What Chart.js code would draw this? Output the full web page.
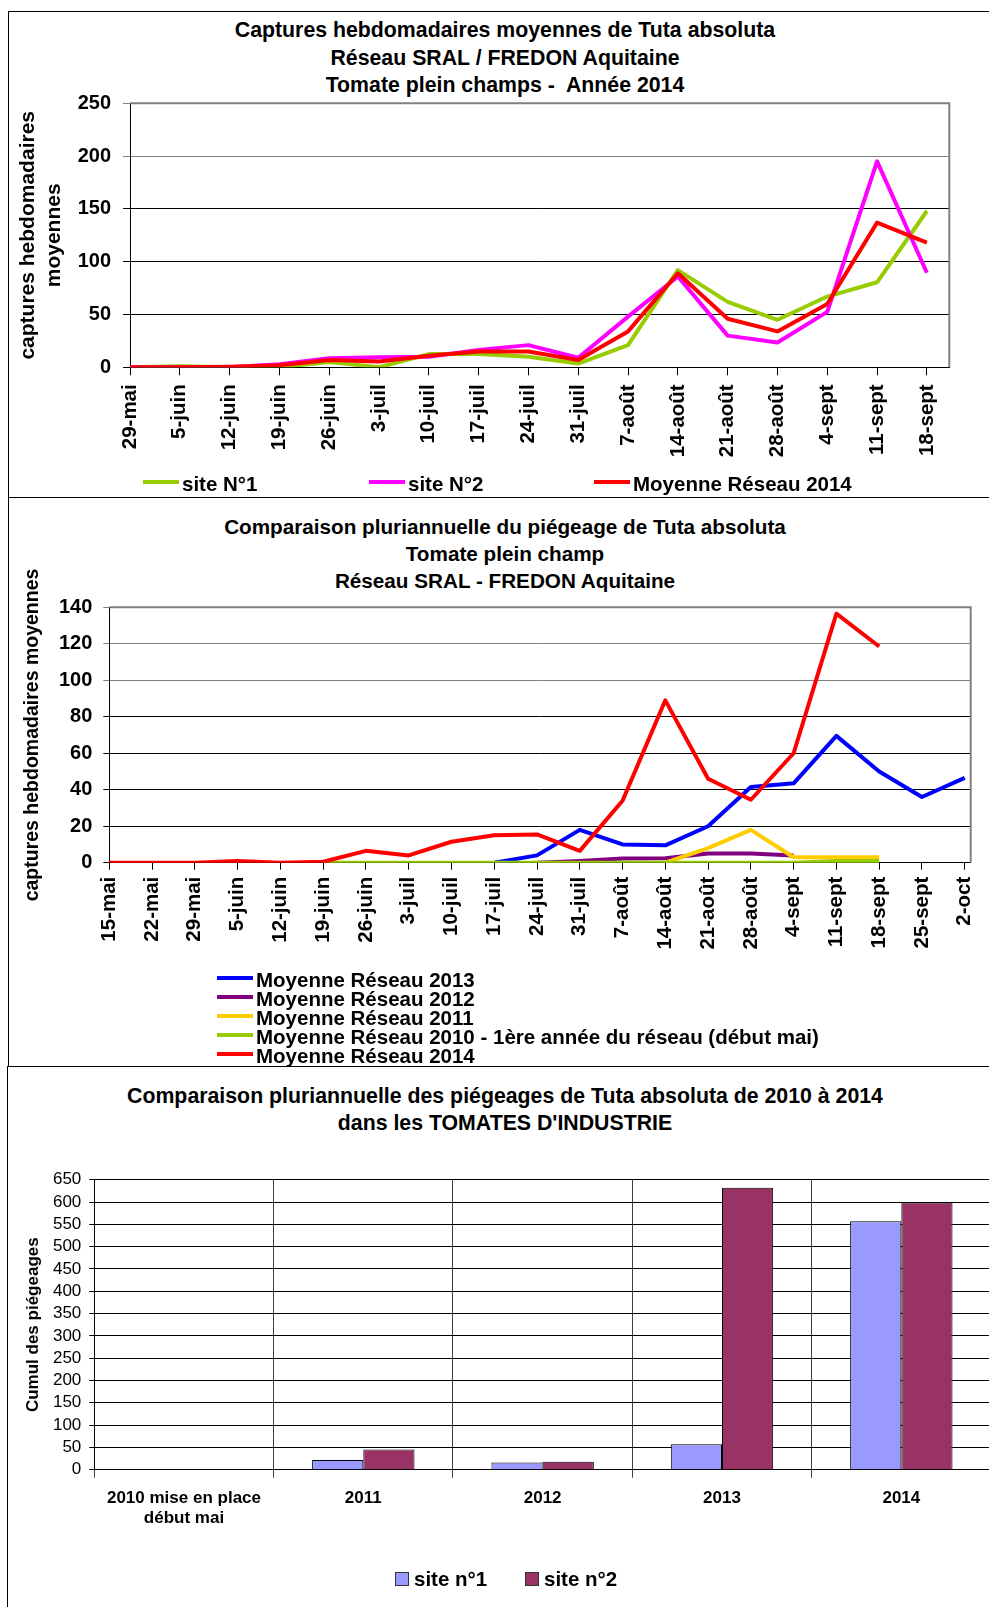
<!DOCTYPE html>
<html lang="fr">
<head>
<meta charset="utf-8">
<title>Tuta absoluta - piégeages 2010-2014</title>
<script src="https://cdn.jsdelivr.net/npm/chart.js@4.4.1/dist/chart.umd.min.js"></script>
<style>
    html, body { margin: 0; padding: 0; background: #fff; overflow: hidden; }
    body { width: 989px; height: 1607px; position: relative; font-family: 'Liberation Sans', Arial, sans-serif; color: #000; }
    .cadre { position: absolute; border: 1px solid #000; box-sizing: border-box; }
    canvas { position: absolute; }
    .titre { position: absolute; text-align: center; font-weight: bold; font-size: 21.3px; white-space: nowrap; }
    .leg { position: absolute; height: 24px; line-height: 24px; font-weight: bold; font-size: 20.5px; white-space: nowrap; }
    .leg i { position: absolute; display: block; }
</style>
</head>
<body>

<div class="cadre" style="left:8px;top:11px;width:1000px;height:487px"></div>
<div class="cadre" style="left:8px;top:497px;width:1000px;height:570px"></div>
<div class="cadre" style="left:7px;top:1066px;width:1000px;height:600px"></div>

<div class="titre" style="left:9px;top:17px;width:992px;line-height:27.5px">Captures hebdomadaires moyennes de Tuta absoluta<br>Réseau SRAL / FREDON Aquitaine<br>Tomate plein champs -&nbsp; Année 2014</div>
<div class="titre" style="left:9px;top:513px;width:992px;line-height:27px;font-size:20.7px">Comparaison pluriannuelle du piégeage de Tuta absoluta<br>Tomate plein champ<br>Réseau SRAL - FREDON Aquitaine</div>
<div class="titre" style="left:9px;top:1083px;width:992px;line-height:27.4px">Comparaison pluriannuelle des piégeages de Tuta absoluta de 2010 à 2014<br>dans les TOMATES D'INDUSTRIE</div>

<canvas id="graphe2014" width="992" height="484" style="left:9px;top:12px"></canvas>
<canvas id="grapheAnnees" width="993" height="567" style="left:8px;top:498px"></canvas>
<canvas id="grapheCumul" width="994" height="540" style="left:7px;top:1067px"></canvas>

<div id="legendes"></div>

<script>
Chart.defaults.font.family = "'Liberation Sans', Arial, sans-serif";
Chart.defaults.color = '#000';

/* Graphe 1 : captures hebdomadaires 2014 */
var semaines2014 = ['29-mai', '5-juin', '12-juin', '19-juin', '26-juin', '3-juil', '10-juil', '17-juil', '24-juil',
    '31-juil', '7-août', '14-août', '21-août', '28-août', '4-sept', '11-sept', '18-sept'];
var site1Hebdo = [0, 1, 0, 0, 5, 0, 12.5, 12.5, 10, 3.5, 21, 92, 62, 45, 67, 80.5, 148];
var site2Hebdo = [0, 0, 0, 3, 8.5, 9.5, 10, 16.5, 21, 9, 48, 86, 30, 23.5, 52.5, 195, 89.5];
var moyenneHebdo2014 = [0, 0, 0.5, 2, 7, 5.5, 11, 15, 15, 7, 34, 89, 46, 34, 60, 137, 118];

/* Graphe 2 : comparaison pluriannuelle (plein champ) */
var semaines = ['15-mai', '22-mai', '29-mai', '5-juin', '12-juin', '19-juin', '26-juin', '3-juil', '10-juil', '17-juil',
    '24-juil', '31-juil', '7-août', '14-août', '21-août', '28-août', '4-sept', '11-sept', '18-sept', '25-sept', '2-oct'];
var moyenne2013 = [null, null, null, null, null, null, null, null, null, 0, 4, 18, 10, 9.5, 20, 41.5, 43.5, 69.5, 50, 36, 46.5];
var moyenne2012 = [null, null, null, null, null, null, null, null, null, null, 0, 1, 2.3, 2.4, 5, 5, 4, null, null, null, null];
var moyenne2011 = [null, null, null, null, null, null, null, null, null, null, null, null, null, 0, 8, 18, 3, 3, 3, null, null];
var moyenne2010 = [null, null, null, null, null, 0, 0, 0, 0, 0, 0, 0, 0, 0, 0, 0, 0, 1, 1, null, null];
var moyenne2014 = [0, 0, 0, 1, 0, 0.5, 6.5, 4, 11.5, 15, 15.5, 6.5, 34, 89, 46, 34.5, 60, 136.5, 118.5, null, null];

/* Graphe 3 : cumul des piégeages en tomates d'industrie */
var annees = [['2010 mise en place', 'début mai'], '2011', '2012', '2013', '2014'];
var site1Cumul = [null, 22, 16, 57, 557];
var site2Cumul = [null, 45, 18, 632, 599];

var VERT = '#99CC00', ROSE = '#FF00FF', ROUGE = '#FF0000', BLEU = '#0000FF',
    VIOLET = '#800080', JAUNE = '#FFCC00', LAVANDE = '#9999FF', PRUNE = '#993366';

// valeurs -> points {x, y} pour l'axe x linéaire
function points(valeurs) {
    return valeurs.map(function (v, i) {
        return {x: i, y: v};
    });
}

function serie(label, valeurs, couleur, ordre) {
    return {
        label: label,
        data: points(valeurs),
        borderColor: couleur,
        backgroundColor: couleur,
        borderWidth: 4,
        pointRadius: 0,
        tension: 0,
        borderJoinStyle: 'round',
        order: ordre
    };
}

// bord gris en haut et a droite de la zone de tracé
var bordZone = {
    id: 'bordZone',
    beforeDatasetsDraw: function (chart) {
        var a = chart.chartArea, ctx = chart.ctx;
        ctx.save();
        ctx.strokeStyle = '#808080';
        ctx.lineWidth = 2;
        ctx.beginPath();
        ctx.moveTo(a.left, a.top);
        ctx.lineTo(a.right, a.top);
        ctx.lineTo(a.right, a.bottom);
        ctx.stroke();
        ctx.restore();
    }
};

/* ---------- graphe 1 ---------- */
new Chart(document.getElementById('graphe2014'), {
    type: 'line',
    data: {
        datasets: [
            serie('site N°1', site1Hebdo, VERT, 2),
            serie('site N°2', site2Hebdo, ROSE, 1),
            serie('Moyenne Réseau 2014', moyenneHebdo2014, ROUGE, 0)
        ]
    },
    options: {
        responsive: false,
        animation: false,
        layout: {padding: {left: 4, top: 91.3, right: 51.7, bottom: 38.7}},
        plugins: {legend: {display: false}, tooltip: {enabled: false}},
        scales: {
            x: {
                type: 'linear', min: 0, max: 16.45,
                afterFit: function (s) { s.height = 90; },
                ticks: {
                    stepSize: 1, includeBounds: false, autoSkip: false,
                    minRotation: 90, maxRotation: 90, padding: 9,
                    font: {size: 20.5, weight: 'bold'},
                    callback: function (v) { return semaines2014[v]; }
                },
                grid: {drawOnChartArea: false, tickLength: 8, color: '#000'},
                border: {color: '#000'}
            },
            y: {
                min: 0, max: 250,
                afterFit: function (s) { s.width = 117; },
                ticks: {stepSize: 50, autoSkip: false, padding: 12, font: {size: 20, weight: 'bold'}},
                grid: {
                    tickLength: 7,
                    color: function (c) { return c.tick && c.tick.value >= 200 ? '#808080' : '#000'; }
                },
                border: {color: '#000'},
                title: {
                    display: true,
                    text: ['captures hebdomadaires', 'moyennes'],
                    font: {size: 21, weight: 'bold'},
                    padding: {top: 3, bottom: 0}
                }
            }
        }
    },
    plugins: [bordZone]
});

/* ---------- graphe 2 ---------- */
new Chart(document.getElementById('grapheAnnees'), {
    type: 'line',
    data: {
        datasets: [
            serie('Moyenne Réseau 2013', moyenne2013, BLEU, 4),
            serie('Moyenne Réseau 2012', moyenne2012, VIOLET, 3),
            serie('Moyenne Réseau 2011', moyenne2011, JAUNE, 2),
            serie('Moyenne Réseau 2010 - 1ère année du réseau (début mai)', moyenne2010, VERT, 1),
            serie('Moyenne Réseau 2014', moyenne2014, ROUGE, 0)
        ]
    },
    options: {
        responsive: false,
        animation: false,
        layout: {padding: {left: 4, top: 109.3, right: 30.3, bottom: 112.3}},
        plugins: {legend: {display: false}, tooltip: {enabled: false}},
        scales: {
            x: {
                type: 'linear', min: 0, max: 20.14,
                afterFit: function (s) { s.height = 90; },
                ticks: {
                    stepSize: 1, includeBounds: false, autoSkip: false,
                    minRotation: 90, maxRotation: 90, padding: 7,
                    font: {size: 20.5, weight: 'bold'},
                    callback: function (v) { return semaines[v]; }
                },
                grid: {drawOnChartArea: false, tickLength: 7, color: '#000'},
                border: {color: '#000'}
            },
            y: {
                min: 0, max: 140,
                afterFit: function (s) { s.width = 97.3; },
                ticks: {stepSize: 20, autoSkip: false, padding: 11, font: {size: 20, weight: 'bold'}},
                grid: {
                    tickLength: 6,
                    color: function (c) { return c.tick && c.tick.value >= 100 ? '#808080' : '#000'; }
                },
                border: {color: '#000'},
                title: {
                    display: true,
                    text: 'captures hebdomadaires moyennes',
                    font: {size: 19.5, weight: 'bold'},
                    padding: {top: 9, bottom: 0}
                }
            }
        }
    },
    plugins: [bordZone]
});

/* ---------- graphe 3 ---------- */
new Chart(document.getElementById('grapheCumul'), {
    type: 'bar',
    data: {
        labels: annees,
        datasets: [{
            label: 'site n°1',
            data: site1Cumul,
            backgroundColor: LAVANDE,
            borderColor: '#000',
            borderWidth: 1,
            barPercentage: 1,
            categoryPercentage: 0.571
        }, {
            label: 'site n°2',
            data: site2Cumul,
            backgroundColor: PRUNE,
            borderColor: '#000',
            borderWidth: 1,
            barPercentage: 1,
            categoryPercentage: 0.571
        }]
    },
    options: {
        responsive: false,
        animation: false,
        layout: {padding: {left: 4, top: 112.7, right: 10, bottom: 67.3}},
        plugins: {legend: {display: false}, tooltip: {enabled: false}},
        scales: {
            x: {
                afterFit: function (s) { s.height = 70; },
                ticks: {maxRotation: 0, minRotation: 0, autoSkip: false, padding: 10, font: {size: 17, weight: 'bold'}},
                grid: {offset: true, tickLength: 8, color: '#404040'},
                border: {color: '#000'}
            },
            y: {
                min: 0, max: 650,
                afterFit: function (s) { s.width = 83.3; },
                ticks: {stepSize: 50, autoSkip: false, padding: 8, font: {size: 17}},
                grid: {tickLength: 5, color: '#000'},
                border: {color: '#000'},
                title: {
                    display: true,
                    text: 'Cumul des piégeages',
                    font: {size: 17, weight: 'bold'},
                    padding: {top: 12, bottom: 0}
                }
            }
        }
    }
});

/* ---------- légendes ---------- */
var legendes = [
    // graphe 1
    {texte: 'site N°1', couleur: VERT, x: 143, y: 472, type: 'trait'},
    {texte: 'site N°2', couleur: ROSE, x: 369, y: 472, type: 'trait'},
    {texte: 'Moyenne Réseau 2014', couleur: ROUGE, x: 594, y: 472, type: 'trait'},
    // graphe 2
    {texte: 'Moyenne Réseau 2013', couleur: BLEU, x: 217, y: 968, type: 'trait'},
    {texte: 'Moyenne Réseau 2012', couleur: VIOLET, x: 217, y: 987, type: 'trait'},
    {texte: 'Moyenne Réseau 2011', couleur: JAUNE, x: 217, y: 1006, type: 'trait'},
    {texte: 'Moyenne Réseau 2010 - 1ère année du réseau (début mai)', couleur: VERT, x: 217, y: 1025, type: 'trait'},
    {texte: 'Moyenne Réseau 2014', couleur: ROUGE, x: 217, y: 1044, type: 'trait'},
    // graphe 3
    {texte: 'site n°1', couleur: LAVANDE, x: 395, y: 1567, type: 'carre'},
    {texte: 'site n°2', couleur: PRUNE, x: 525, y: 1567, type: 'carre'}
];

var zoneLeg = document.getElementById('legendes');
legendes.forEach(function (l) {
    var d = document.createElement('div');
    d.className = 'leg';
    d.style.left = l.x + 'px';
    d.style.top = l.y + 'px';
    var m = document.createElement('i');
    if (l.type === 'trait') {
        m.style.cssText = 'left:0;top:8px;width:36px;height:4px;background:' + l.couleur;
        d.style.paddingLeft = '39px';
    } else {
        m.style.cssText = 'left:0;top:5px;width:12px;height:12px;border:1px solid #333;background:' + l.couleur;
        d.style.paddingLeft = '19px';
    }
    d.appendChild(m);
    d.appendChild(document.createTextNode(l.texte));
    zoneLeg.appendChild(d);
});
</script>
</body>
</html>
